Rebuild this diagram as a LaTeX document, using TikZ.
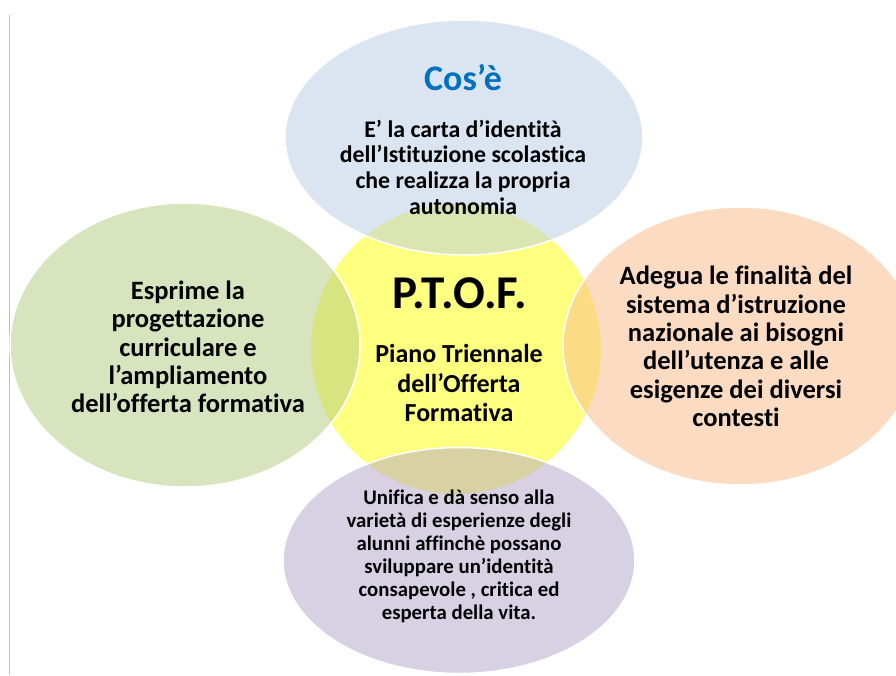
\documentclass[tikz,border=0pt]{standalone}
\usepackage{fontspec}
\setmainfont{Carlito}[Ligatures=NoCommon]
\definecolor{cyellow}{RGB}{255,255,128}
\definecolor{cblue}{RGB}{185,205,229}
\definecolor{cgreen}{RGB}{177,203,127}
\definecolor{cpeach}{RGB}{249,187,137}
\definecolor{cpurple}{RGB}{179,165,201}
\definecolor{titleblue}{RGB}{0,112,192}
\definecolor{rulegray}{RGB}{192,192,192}
\tikzset{
  petal/.style={draw=white, line width=1.5pt, fill opacity=0.5, draw opacity=1},
  bodytxt/.style={align=center, font=\bfseries\fontsize{26.5}{28.3}\selectfont, text=black, inner sep=0pt},
}
\begin{document}
\begin{tikzpicture}[x=1pt,y=-1pt]
\useasboundingbox (0,0) rectangle (896,675);
\clip (0,0) rectangle (896,675);
\fill[white] (0,0) rectangle (896,675);
% left rule
\coordinate (r1) at (9.5,15);
\coordinate (r2) at (9.5,675);
\draw[rulegray, line width=1.2pt] (r1) -- (r2);
% centre circle
\fill[cyellow] (456,349) circle[radius=145pt];
% petals
\draw[petal, fill=cblue] (464,137.5) ellipse[x radius=179pt, y radius=117.5pt];
\draw[petal, fill=cgreen] (185,345) ellipse[x radius=175pt, y radius=142pt];
\draw[petal, fill=cpeach] (740,346) ellipse[x radius=177pt, y radius=139pt];
\draw[petal, fill=cpurple] (459,560.5) ellipse[x radius=176pt, y radius=113pt];
% texts
\node[font=\bfseries\fontsize{36}{40}\selectfont, text=titleblue, inner sep=0pt] (cose) at (463,78) {Cos’è};
\node[bodytxt, font=\bfseries\fontsize{23.8}{25.7}\selectfont] (top) at (463,167)
  {E’ la carta d’identità\\dell’Istituzione scolastica\\che realizza la propria\\autonomia};
\node[bodytxt] (left) at (188,347)
  {Esprime la\\progettazione\\curriculare e\\l’ampliamento\\dell’offerta formativa};
\node[bodytxt] (right) at (736,346.5)
  {Adegua le finalità del\\sistema d’istruzione\\nazionale ai bisogni\\dell’utenza e alle\\esigenze dei diversi\\contesti};
\node[bodytxt, font=\bfseries\fontsize{20.8}{23}\selectfont] (bottom) at (459,556)
  {Unifica e dà senso alla\\varietà di esperienze degli\\alunni affinchè possano\\sviluppare un’identità\\consapevole , critica ed\\esperta della vita.};
\node[font=\bfseries\fontsize{47}{50}\selectfont, inner sep=0pt] (ptof) at (460,293) {P.T.O.F.};
\node[bodytxt, font=\bfseries\fontsize{26}{29.5}\selectfont] (piano) at (459,383)
  {Piano Triennale\\dell’Offerta\\Formativa};
\end{tikzpicture}
\end{document}
